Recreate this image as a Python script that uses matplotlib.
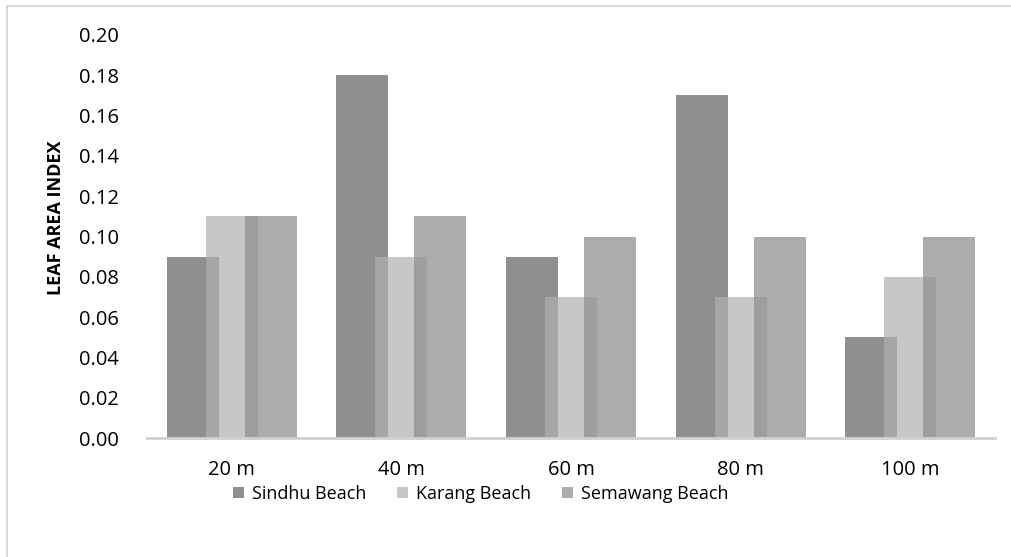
import numpy as np
import matplotlib.pyplot as plt
from matplotlib.lines import Line2D

categories = ['20 m', '40 m', '60 m', '80 m', '100 m']
sindhu = [0.09, 0.18, 0.09, 0.17, 0.05]
karang = [0.11, 0.09, 0.07, 0.07, 0.08]
semawang = [0.11, 0.11, 0.10, 0.10, 0.10]
series_names = ['Sindhu Beach', 'Karang Beach', 'Semawang Beach']
yticks = np.arange(0, 0.201, 0.02)

plt.rcParams['font.family'] = ['Open Sans', 'DejaVu Sans']

W, H = 1012, 557
fig = plt.figure(figsize=(W / 100, H / 100), dpi=100)
ax = fig.add_axes([147 / W, 1 - 438 / H, 848 / W, 403 / H])

x = np.arange(len(categories))
width = 0.307
step = 0.23
# semi-transparent bars, overlapping like the original
colors = [('#8f8f8f', 1.0), ('#b0b0b0', 0.7), ('#909090', 0.745)]
handles = []
for i, (vals, (c, a)) in enumerate(zip([sindhu, karang, semawang], colors)):
    b = ax.bar(x + (i - 1) * step, vals, width, color=c, alpha=a,
               label=series_names[i], zorder=2)
    handles.append(b)

ax.set_xlim(-0.5, len(categories) - 0.5)
ax.set_ylim(0, 0.20)
ax.set_yticks(yticks)
ax.set_yticklabels([f'{v:.2f}' for v in yticks], fontsize=14.5)
ax.set_xticks(x)
ax.set_xticklabels(categories, fontsize=14.5)
ax.tick_params(axis='y', length=0, pad=20)
ax.tick_params(axis='x', length=0, pad=16)
for s in ['top', 'right', 'left']:
    ax.spines[s].set_visible(False)
ax.spines['bottom'].set_color('#d0d0d0')
ax.spines['bottom'].set_linewidth(2)
ax.spines['bottom'].set_zorder(3)

fig.text(56 / W, 1 - 218 / H, 'LEAF AREA INDEX', fontsize=13, fontweight='bold',
         rotation=90, ha='center', va='center')

fig.legend(handles=handles, labels=series_names, loc='center',
           bbox_to_anchor=(481 / W, 1 - 494 / H), ncol=3, frameon=False,
           fontsize=13, handlelength=0.6, handleheight=0.6,
           handletextpad=0.45, columnspacing=1.7)

# chart frame: only top and left edges are visible in the original crop
fig.add_artist(Line2D([7 / W, 1], [1 - 6 / H, 1 - 6 / H], transform=fig.transFigure,
                      color='#d9d9d9', linewidth=1.5))
fig.add_artist(Line2D([7 / W, 7 / W], [0, 1 - 6 / H], transform=fig.transFigure,
                      color='#d9d9d9', linewidth=1.5))

fig.savefig('out.png', dpi=100)
